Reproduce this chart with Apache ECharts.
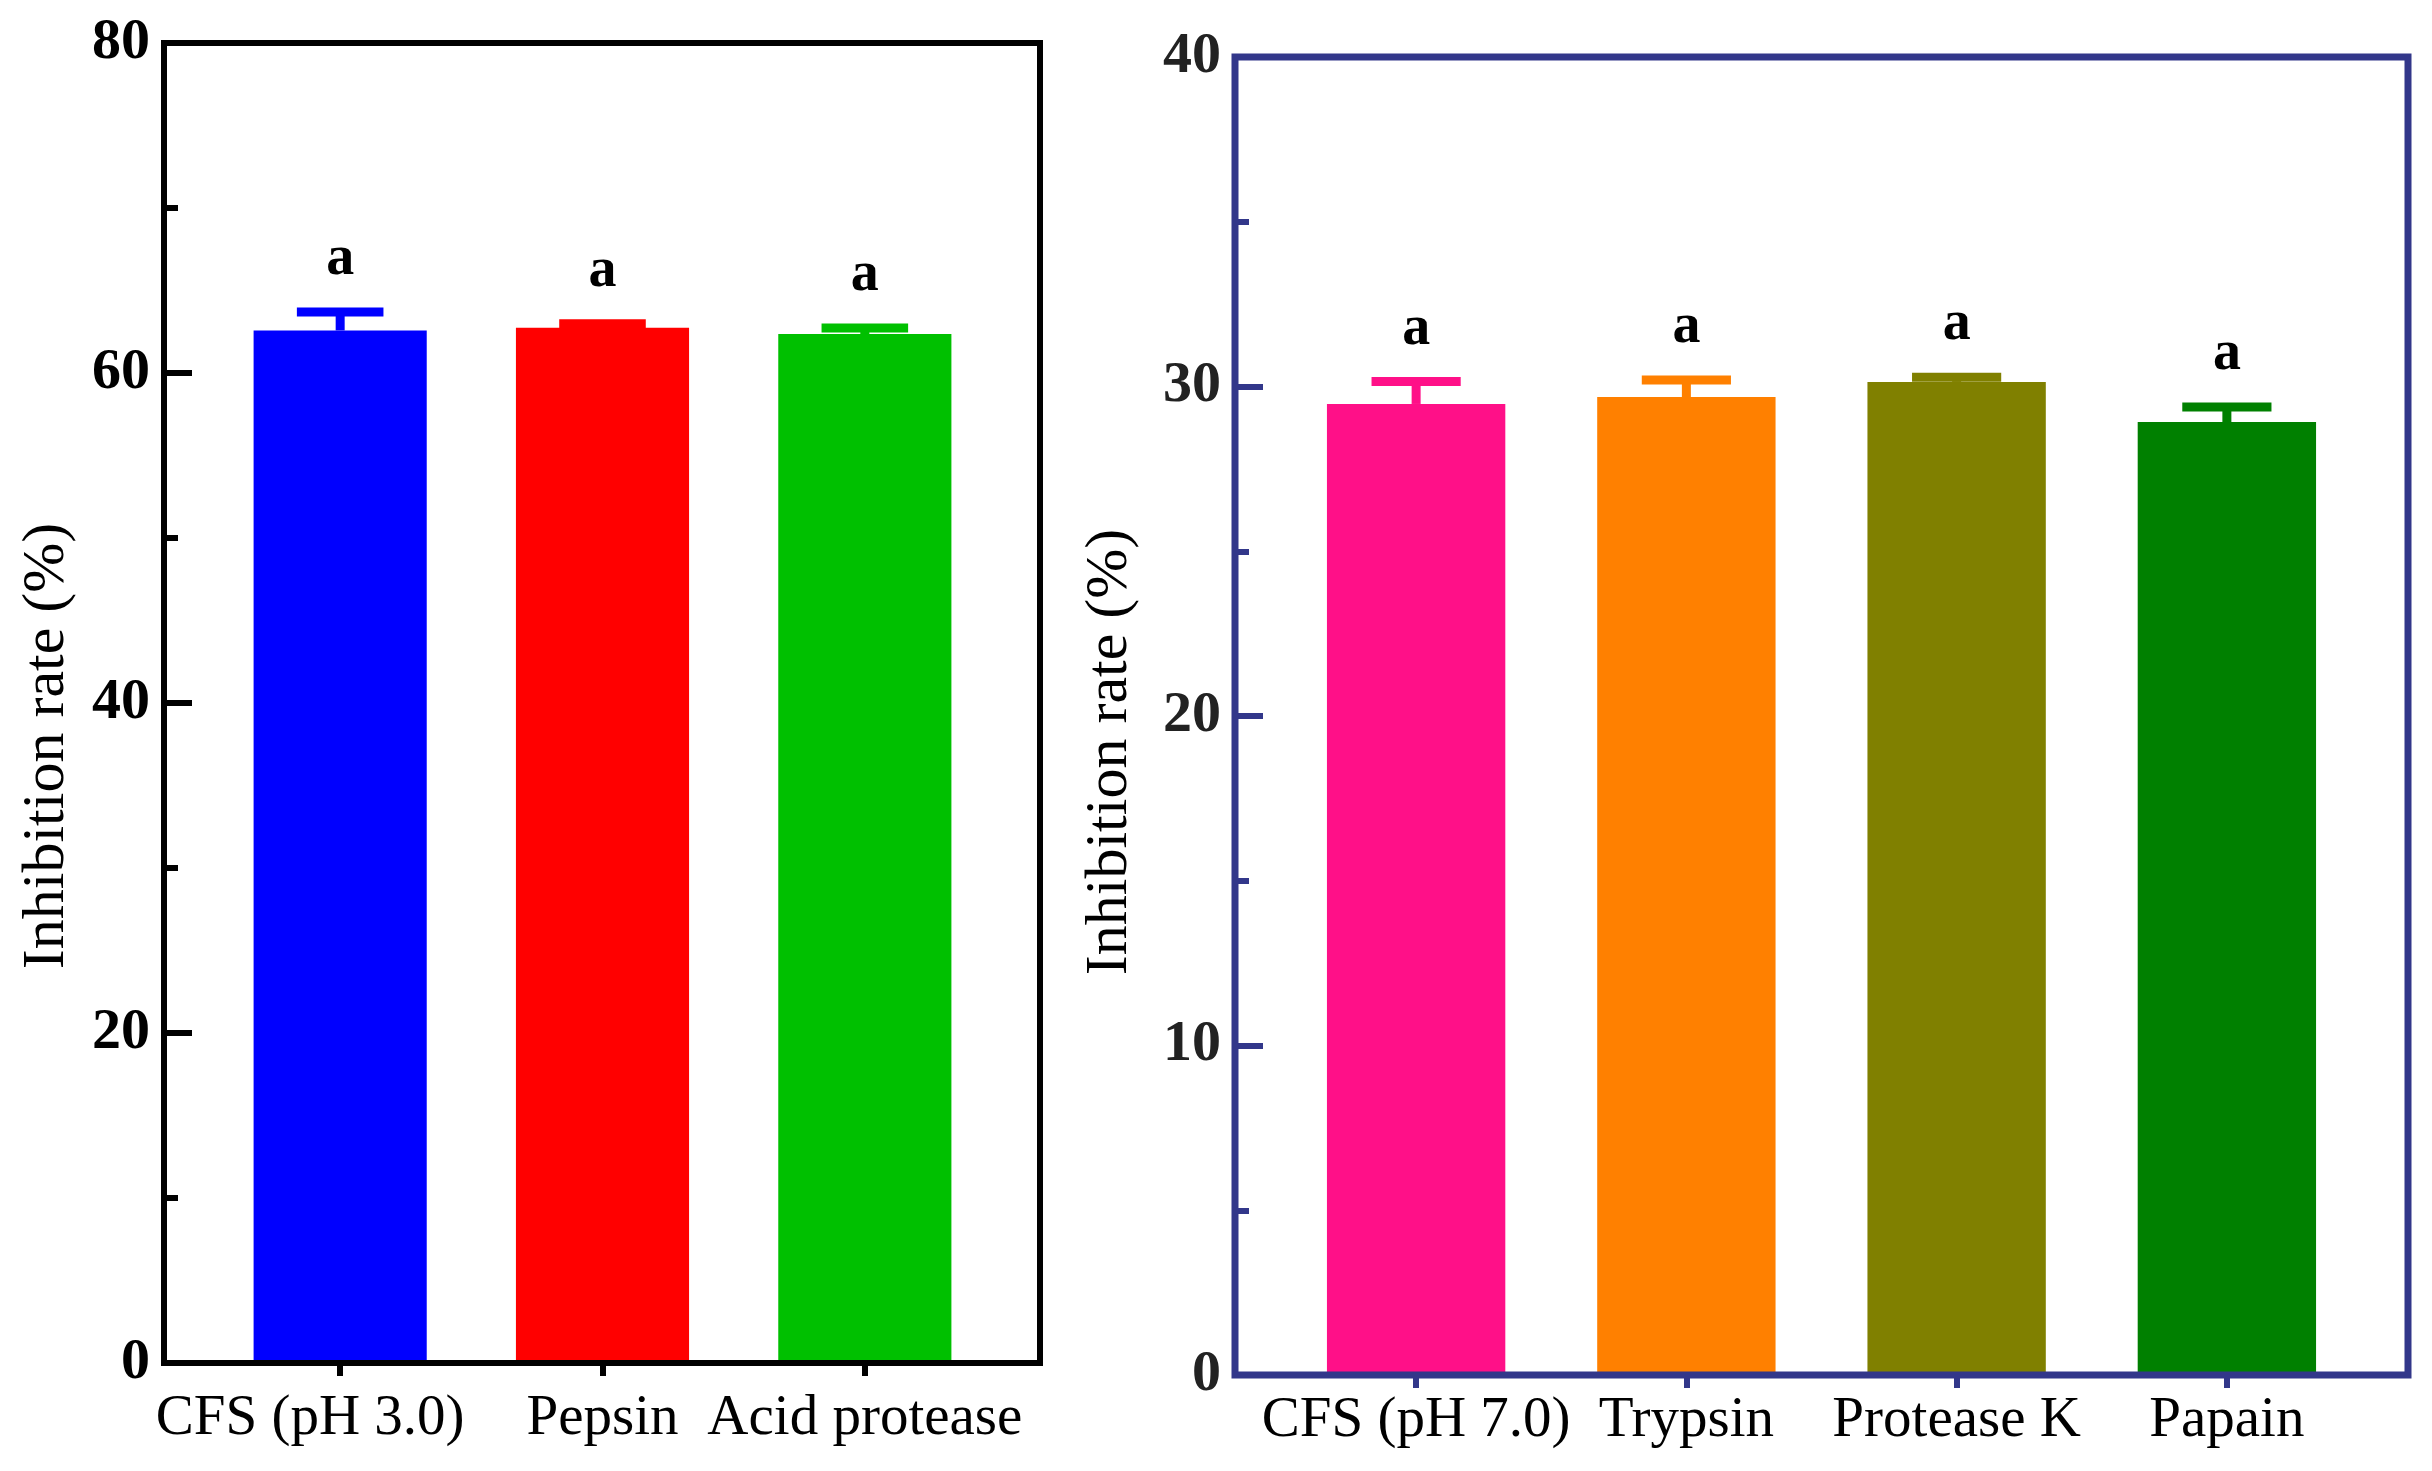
<!DOCTYPE html>
<html lang="en">
<head>
<meta charset="UTF-8" />
<title>Inhibition rate</title>
<script src="https://cdn.jsdelivr.net/npm/echarts@6/dist/echarts.min.js"></script>
<style>
* { margin: 0; padding: 0; }
html, body { height: 100%; background: #fff; }
</style>
</head>
<body>
<div id="main" style="width:2432px;height:1471px;"></div>
<script type="text/javascript">
// left panel: acidic CFS and acid proteases
var leftCats = ["CFS (pH 3.0)", "Pepsin", "Acid protease"];
var leftMeans = [62.58, 62.74, 62.36];
var leftErrs = [1.11, 0.25, 0.37];
var leftLetters = ["a", "a", "a"];
var leftColors = ["#0000FF", "#FF0000", "#00C000"];

// right panel: neutral CFS and other proteases
var rightCats = ["CFS (pH 7.0)", "Trypsin", "Protease K", "Papain"];
var rightMeans = [29.47, 29.68, 30.14, 28.92];
var rightErrs = [0.68, 0.52, 0.14, 0.46];
var rightLetters = ["a", "a", "a", "a"];
var rightColors = ["#FF1088", "#FF8000", "#808000", "#008000"];

var leftTicks = { min: 0, max: 80, interval: 20 };
var rightTicks = { min: 0, max: 40, interval: 10 };

var FONT = '"Liberation Serif", "Times New Roman", serif';
var NAVY = "#32378A";

function barSeries(idx, means, colors) {
	return {
		type: "bar",
		xAxisIndex: idx,
		yAxisIndex: idx,
		barCategoryGap: "34%",
		data: means.map(function (v, i) {
			return { value: v, itemStyle: { color: colors[i] } };
		})
	};
}

// error bar (upper only) + significance letter
function errorSeries(idx, means, errs, letters, colors) {
	return {
		type: "custom",
		xAxisIndex: idx,
		yAxisIndex: idx,
		z: 5,
		data: means.map(function (m, i) { return [i, m, errs[i]]; }),
		encode: { x: 0, y: 1 },
		renderItem: function (params, api) {
			var i = api.value(0), m = api.value(1), e = api.value(2);
			var top = api.coord([i, m]);
			var cap = api.coord([i, m + e]);
			var half = api.size([1, 0])[0] * 0.66 / 4;
			var color = colors[params.dataIndex];
			var lw = 9;
			return {
				type: "group",
				children: [
					{ type: "line", shape: { x1: top[0], y1: top[1], x2: cap[0], y2: cap[1] }, style: { stroke: color, lineWidth: lw } },
					{ type: "line", shape: { x1: cap[0] - half, y1: cap[1], x2: cap[0] + half, y2: cap[1] }, style: { stroke: color, lineWidth: lw } },
					{
						type: "text",
						style: {
							text: letters[params.dataIndex],
							x: cap[0],
							y: cap[1] - lw / 2 - 20,
							align: "center",
							verticalAlign: "bottom",
							font: "bold 56px " + FONT,
							fill: "#000"
						}
					}
				]
			};
		}
	};
}

function valueAxis(grid, ticks, offset, lineColor, labelColor, nameGap, shift) {
	return {
		gridIndex: grid,
		type: "value",
		min: ticks.min,
		max: ticks.max,
		interval: ticks.interval,
		offset: offset,
		axisLine: { show: false },
		axisTick: { show: true, inside: true, length: 28, lineStyle: { color: lineColor, width: 6 } },
		minorTick: { show: true, splitNumber: 2, length: 14, lineStyle: { color: lineColor, width: 6 } },
		splitLine: { show: false },
		minorSplitLine: { show: false },
		axisLabel: { margin: 14, color: labelColor, fontFamily: FONT, fontWeight: "bold", fontSize: 58 },
		name: "Inhibition rate (%)",
		nameLocation: "middle",
		nameGap: nameGap,
		nameTextStyle: { fontFamily: FONT, fontSize: 60, color: "#000", padding: [0, shift, 0, 0] }
	};
}

// firstShift nudges the first label left, as in the original figure
function catAxis(grid, cats, tickColor, margin, firstShift) {
	return {
		gridIndex: grid,
		type: "category",
		data: cats.map(function (c, i) {
			if (i === 0 && firstShift) return { value: c, textStyle: { padding: [0, firstShift * 2, 0, 0] } };
			return c;
		}),
		axisLine: { show: false },
		axisTick: { show: true, alignWithLabel: true, length: 13, lineStyle: { color: tickColor, width: 6 } },
		axisLabel: { interval: 0, margin: margin, color: "#000", fontFamily: FONT, fontSize: 57 }
	};
}

var hiddenX = function (g) { return { gridIndex: g, type: "value", show: false, min: 0, max: 1 }; };
var hiddenY = function (g) { return { gridIndex: g, type: "value", show: false, min: 0, max: 1 }; };

var option = {
	animation: false,
	backgroundColor: "#fff",
	grid: [
		{ left: 164, top: 43, width: 876, height: 1320, show: true, borderColor: "#000", borderWidth: 6, backgroundColor: "transparent", z: 10 },
		{ left: 209, top: 43, width: 787, height: 1320 },
		{ left: 1235, top: 57, width: 1173, height: 1318, show: true, borderColor: NAVY, borderWidth: 7, backgroundColor: "transparent", z: 10 },
		{ left: 1281, top: 57, width: 1081, height: 1318 }
	],
	xAxis: [
		hiddenX(0),
		catAxis(1, leftCats, "#000", 28, 30),
		hiddenX(2),
		catAxis(3, rightCats, NAVY, 18, 0)
	],
	yAxis: [
		hiddenY(0),
		valueAxis(1, leftTicks, 45, "#000", "#000", 87, 86),
		hiddenY(2),
		valueAxis(3, rightTicks, 46, NAVY, "#222", 95, 72)
	],
	series: [
		barSeries(1, leftMeans, leftColors),
		errorSeries(1, leftMeans, leftErrs, leftLetters, leftColors),
		barSeries(3, rightMeans, rightColors),
		errorSeries(3, rightMeans, rightErrs, rightLetters, rightColors)
	]
};

var myChart = echarts.init(document.getElementById("main"));
myChart.setOption(option);
</script>
</body>
</html>
